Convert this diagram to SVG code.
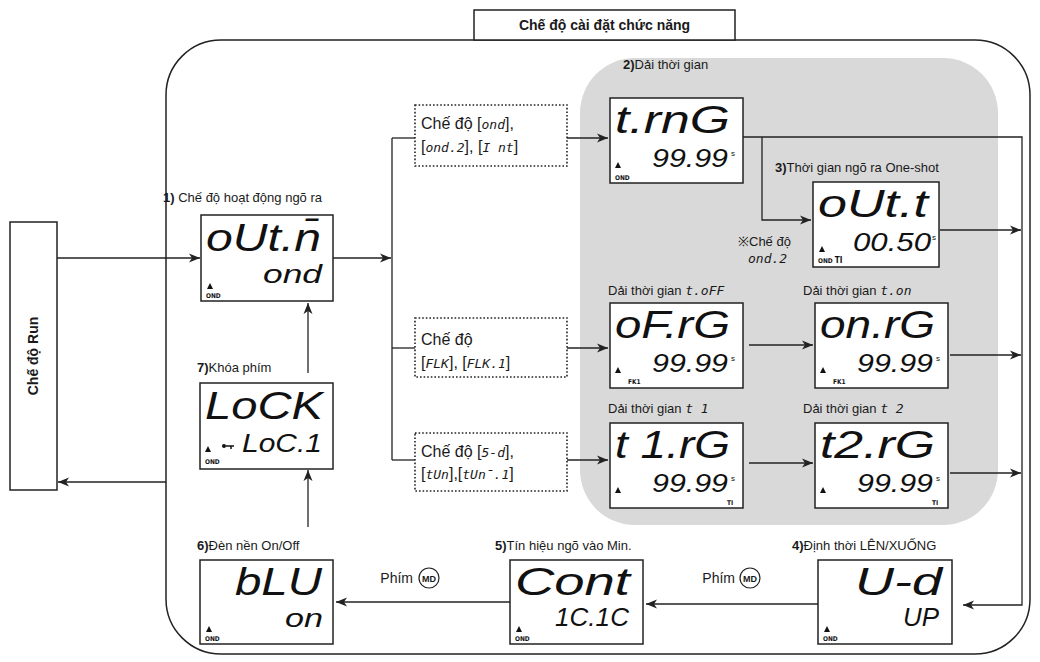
<svg xmlns="http://www.w3.org/2000/svg" width="1040" height="662" viewBox="0 0 1040 662">
<defs>
<style>
.lbl{font-family:"Liberation Sans",Arial,sans-serif;font-size:13px;fill:#1a1a1a}
.b{font-weight:bold}
.dl{font-family:"Liberation Sans",Arial,sans-serif;font-size:16px;fill:#1a1a1a}
.code{font-family:"DejaVu Sans Mono",monospace;font-size:13px;font-style:italic;fill:#1a1a1a}
.lcd{fill:#fff;stroke:#222;stroke-width:1.5}
.segL{font-family:"Liberation Sans",Arial,sans-serif;font-style:italic;font-size:38px;fill:#111}
.segS{font-family:"Liberation Sans",Arial,sans-serif;font-style:italic;font-size:26px;fill:#111}
.tiny{font-family:"DejaVu Sans Condensed","DejaVu Sans",sans-serif;font-size:6.5px;font-weight:bold;fill:#111}
.sec{font-family:"Liberation Sans",Arial,sans-serif;font-size:8px;fill:#111}
.conn{stroke:#222;stroke-width:1.3;fill:none}
.dot{fill:#fff;stroke:#222;stroke-width:1.6;stroke-dasharray:1.6 2}
</style>
<marker id="ar" markerUnits="userSpaceOnUse" markerWidth="12" markerHeight="10" refX="11" refY="5" orient="auto">
<path d="M0,0.5 L11,5 L0,9.5 L3,5 z" fill="#222"/>
</marker>
<polygon id="tri" points="0,0 3,-6 6,0" fill="#111"/>
</defs>
<rect width="1040" height="662" fill="#fff"/>

<g id="frame">
<rect x="166" y="40" width="864" height="614" rx="55" fill="none" stroke="#222" stroke-width="1.5"/>
<rect x="580" y="58" width="418" height="467" rx="55" fill="#d9d9d9"/>
</g>

<g id="title">
<rect x="474" y="10" width="261" height="30" fill="#fff" stroke="#222" stroke-width="1.5"/>
<text x="604.5" y="30" text-anchor="middle" class="lbl b" style="font-size:14px">Chế độ cài đặt chức năng</text>
</g>

<g id="run">
<rect x="10" y="222" width="47" height="268" fill="#fff" stroke="#222" stroke-width="1.5"/>
<text transform="translate(38,356) rotate(-90)" text-anchor="middle" class="lbl b" style="font-size:14px">Chế độ Run</text>
</g>

<g id="connectors">
<line class="conn" x1="57" y1="258" x2="200" y2="258" marker-end="url(#ar)"/>
<line class="conn" x1="166" y1="482" x2="58" y2="482" marker-end="url(#ar)"/>
<line class="conn" x1="333" y1="258" x2="391" y2="258" marker-end="url(#ar)"/>
<line class="conn" x1="392" y1="138" x2="392" y2="460"/>
<line class="conn" x1="392" y1="138" x2="415" y2="138"/>
<line class="conn" x1="392" y1="348" x2="415" y2="348"/>
<line class="conn" x1="392" y1="460" x2="415" y2="460"/>
<line class="conn" x1="567" y1="138" x2="608" y2="138" marker-end="url(#ar)"/>
<line class="conn" x1="567" y1="348" x2="608" y2="348" marker-end="url(#ar)"/>
<line class="conn" x1="567" y1="460" x2="608" y2="460" marker-end="url(#ar)"/>
<polyline class="conn" points="743,137 1022,137 1022,605 963,605" marker-end="url(#ar)"/>
<polyline class="conn" points="762,137 762,220 811,220" marker-end="url(#ar)"/>
<line class="conn" x1="940" y1="230" x2="1021" y2="230" marker-end="url(#ar)"/>
<line class="conn" x1="749" y1="345" x2="813" y2="345" marker-end="url(#ar)"/>
<line class="conn" x1="950" y1="355" x2="1021" y2="355" marker-end="url(#ar)"/>
<line class="conn" x1="749" y1="463" x2="813" y2="463" marker-end="url(#ar)"/>
<line class="conn" x1="950" y1="473" x2="1021" y2="473" marker-end="url(#ar)"/>
<line class="conn" x1="818" y1="604" x2="646" y2="604" marker-end="url(#ar)"/>
<line class="conn" x1="510" y1="602" x2="336" y2="602" marker-end="url(#ar)"/>
<line class="conn" x1="308" y1="527" x2="308" y2="470" marker-end="url(#ar)"/>
<line class="conn" x1="308" y1="373" x2="308" y2="303" marker-end="url(#ar)"/>
<text x="413" y="583" text-anchor="end" class="lbl" style="font-size:14px">Phím</text>
<circle cx="429" cy="578" r="10" fill="#fff" stroke="#222" stroke-width="1.2"/>
<text x="429" y="581.5" text-anchor="middle" class="lbl b" style="font-size:9px">MD</text>
<text x="735" y="583" text-anchor="end" class="lbl" style="font-size:14px">Phím</text>
<circle cx="750" cy="578" r="10" fill="#fff" stroke="#222" stroke-width="1.2"/>
<text x="750" y="581.5" text-anchor="middle" class="lbl b" style="font-size:9px">MD</text>
</g>

<g id="modeA">
<rect class="dot" x="415" y="105" width="152" height="61"/>
<text x="421" y="129" class="dl">Chế độ [<tspan class="code">ond</tspan>],</text>
<text x="421" y="152" class="dl">[<tspan class="code">ond.2</tspan>], [<tspan class="code">I nt</tspan>]</text>
</g>
<g id="modeB">
<rect class="dot" x="415" y="318" width="152" height="59"/>
<text x="421" y="345" class="dl">Chế độ</text>
<text x="421" y="368" class="dl">[<tspan class="code">FLK</tspan>], [<tspan class="code">FLK.1</tspan>]</text>
</g>
<g id="modeC">
<rect class="dot" x="415" y="433" width="152" height="58"/>
<text x="421" y="457" class="dl">Chế độ [<tspan class="code">5-d</tspan>],</text>
<text x="421" y="479" class="dl">[<tspan class="code">tUn</tspan>],[<tspan class="code">tUn̄.1</tspan>]</text>
</g>

<g id="labels">
<text x="163" y="202" class="lbl"><tspan class="b">1)</tspan> Chế độ hoạt động ngõ ra</text>
<text x="197" y="372" class="lbl"><tspan class="b">7)</tspan>Khóa phím</text>
<text x="197" y="550" class="lbl"><tspan class="b">6)</tspan>Đèn nền On/Off</text>
<text x="495" y="550" class="lbl"><tspan class="b">5)</tspan>Tín hiệu ngõ vào Min.</text>
<text x="792" y="550" class="lbl"><tspan class="b">4)</tspan>Định thời LÊN/XUỐNG</text>
<text x="623" y="69" class="lbl"><tspan class="b">2)</tspan>Dải thời gian</text>
<text x="775" y="172" class="lbl"><tspan class="b">3)</tspan>Thời gian ngõ ra One-shot</text>
<text x="608" y="295" class="lbl">Dải thời gian <tspan class="code">t.oFF</tspan></text>
<text x="803" y="295" class="lbl">Dải thời gian <tspan class="code">t.on</tspan></text>
<text x="608" y="413" class="lbl">Dải thời gian <tspan class="code">t 1</tspan></text>
<text x="803" y="413" class="lbl">Dải thời gian <tspan class="code">t 2</tspan></text>
<text x="738" y="246" class="lbl">※Chế độ</text>
<text x="748" y="263" class="code">ond.2</text>
</g>

<g id="n1-outn" transform="translate(201,215)">
<rect class="lcd" width="132" height="86"/>
<text class="segL" x="5" y="36" textLength="115" lengthAdjust="spacingAndGlyphs">oUt.n̄</text>
<text class="segS" x="62" y="68" textLength="59" lengthAdjust="spacingAndGlyphs">ond</text>
<use href="#tri" x="6" y="74"/>
<text class="tiny" x="5" y="83">OND</text>
</g>

<g id="n7-lock" transform="translate(200,383)">
<rect class="lcd" width="133" height="86"/>
<text class="segL" x="5" y="36" textLength="118" lengthAdjust="spacingAndGlyphs">LoCK</text>
<circle cx="24" cy="63" r="2" fill="#111"/>
<path d="M26,63 H34 M31,63 V66" stroke="#111" stroke-width="1.5" fill="none"/>
<text class="segS" x="42" y="69" textLength="80" lengthAdjust="spacingAndGlyphs">LoC.1</text>
<use href="#tri" x="5" y="69"/>
<text class="tiny" x="5" y="81">OND</text>
</g>

<g id="n6-blu" transform="translate(200,560)">
<rect class="lcd" width="133" height="84"/>
<text class="segL" x="35" y="35" textLength="87" lengthAdjust="spacingAndGlyphs">bLU</text>
<text class="segS" x="85" y="67" textLength="38" lengthAdjust="spacingAndGlyphs">on</text>
<use href="#tri" x="6" y="72"/>
<text class="tiny" x="5" y="81">OND</text>
</g>

<g id="n5-cont" transform="translate(510,560)">
<rect class="lcd" width="133" height="84"/>
<text class="segL" x="5" y="35" textLength="115" lengthAdjust="spacingAndGlyphs">Cont</text>
<text class="segS" x="45" y="66" textLength="74" lengthAdjust="spacingAndGlyphs">1C.1C</text>
<use href="#tri" x="6" y="72"/>
<text class="tiny" x="5" y="81">OND</text>
</g>

<g id="n4-ud" transform="translate(818,560)">
<rect class="lcd" width="134" height="84"/>
<text class="segL" x="37" y="35" textLength="87" lengthAdjust="spacingAndGlyphs">U-d</text>
<text class="segS" x="85" y="66" textLength="36" lengthAdjust="spacingAndGlyphs">UP</text>
<use href="#tri" x="6" y="72"/>
<text class="tiny" x="5" y="81">OND</text>
</g>

<g id="n2-trng" transform="translate(610,98)">
<rect class="lcd" width="133" height="85"/>
<text class="segL" x="5" y="35" textLength="115" lengthAdjust="spacingAndGlyphs">t.rnG</text>
<text class="segS" x="42" y="69" textLength="76" lengthAdjust="spacingAndGlyphs">99.99</text>
<text class="sec" x="121" y="58">s</text>
<use href="#tri" x="5" y="70"/>
<text class="tiny" x="5" y="82">OND</text>
</g>

<g id="n3-outt" transform="translate(813,182)">
<rect class="lcd" width="126" height="85"/>
<text class="segL" x="5" y="35" textLength="110" lengthAdjust="spacingAndGlyphs">oUt.t</text>
<text class="segS" x="40" y="69" textLength="78" lengthAdjust="spacingAndGlyphs">00.50</text>
<text class="sec" x="119" y="58">s</text>
<use href="#tri" x="6" y="70"/>
<text class="tiny" x="5" y="81">OND <tspan style="font-size:8px">TI</tspan></text>
</g>

<g id="n-ofrg" transform="translate(610,303)">
<rect class="lcd" width="133" height="85"/>
<text class="segL" x="5" y="35" textLength="115" lengthAdjust="spacingAndGlyphs">oF.rG</text>
<text class="segS" x="42" y="69" textLength="76" lengthAdjust="spacingAndGlyphs">99.99</text>
<text class="sec" x="121" y="58">s</text>
<use href="#tri" x="5" y="70"/>
<text class="tiny" x="18" y="81">FK1</text>
</g>

<g id="n-onrg" transform="translate(815,303)">
<rect class="lcd" width="133" height="85"/>
<text class="segL" x="5" y="35" textLength="115" lengthAdjust="spacingAndGlyphs">on.rG</text>
<text class="segS" x="42" y="69" textLength="76" lengthAdjust="spacingAndGlyphs">99.99</text>
<text class="sec" x="121" y="58">s</text>
<use href="#tri" x="5" y="70"/>
<text class="tiny" x="18" y="81">FK1</text>
</g>

<g id="n-t1rg" transform="translate(610,423)">
<rect class="lcd" width="133" height="85"/>
<text class="segL" x="5" y="35" textLength="115" lengthAdjust="spacingAndGlyphs">t 1.rG</text>
<text class="segS" x="42" y="69" textLength="76" lengthAdjust="spacingAndGlyphs">99.99</text>
<text class="sec" x="121" y="58">s</text>
<use href="#tri" x="5" y="70"/>
<text class="tiny" x="117" y="82">TI</text>
</g>

<g id="n-t2rg" transform="translate(815,423)">
<rect class="lcd" width="133" height="85"/>
<text class="segL" x="5" y="35" textLength="115" lengthAdjust="spacingAndGlyphs">t2.rG</text>
<text class="segS" x="42" y="69" textLength="76" lengthAdjust="spacingAndGlyphs">99.99</text>
<text class="sec" x="121" y="58">s</text>
<use href="#tri" x="5" y="70"/>
<text class="tiny" x="117" y="82">TI</text>
</g>
</svg>
